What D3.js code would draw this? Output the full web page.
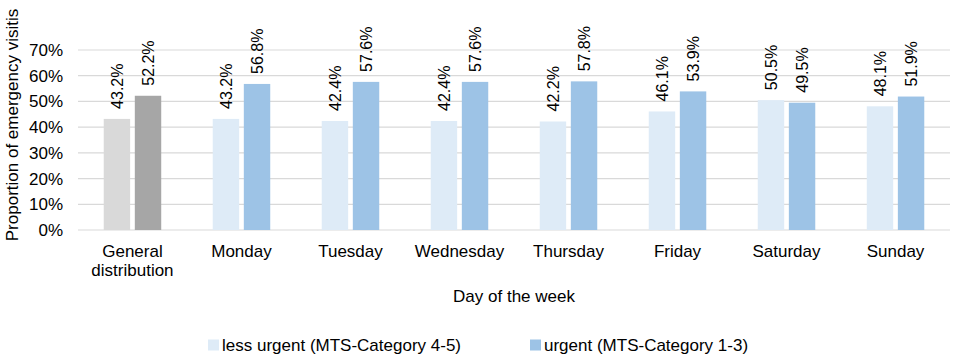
<!DOCTYPE html>
<html>
<head>
<meta charset="utf-8">
<script src="https://cdn.jsdelivr.net/npm/d3@7/dist/d3.min.js"></script>
<style>
  body { margin: 0; background: #fff; }
  svg { font-family: "Liberation Sans", Arial, sans-serif; }
</style>
</head>
<body>
<div id="chart"></div>
<script>
const categories = ["General distribution", "Monday", "Tuesday", "Wednesday", "Thursday", "Friday", "Saturday", "Sunday"];
const seriesNames = ["less urgent (MTS-Category 4-5)", "urgent (MTS-Category 1-3)"];
const lessUrgent = [43.2, 43.2, 42.4, 42.4, 42.2, 46.1, 50.5, 48.1];
const urgent = [52.2, 56.8, 57.6, 57.6, 57.8, 53.9, 49.5, 51.9];
const yTicks = [0, 10, 20, 30, 40, 50, 60, 70];

const WIDTH = 957;
const HEIGHT = 356;
const PLOT = { left: 78, right: 950, top: 50, bottom: 230 };

const blueColors = ["#deebf7", "#9dc3e6"];
const greyColors = ["#d9d9d9", "#a6a6a6"];

const rows = categories.map((c, i) => ({ name: c, values: [lessUrgent[i], urgent[i]] }));

const svg = d3.select("#chart")
    .append("svg")
    .attr("width", WIDTH)
    .attr("height", HEIGHT);

const x0 = d3.scaleBand()
    .domain(categories)
    .range([PLOT.left, PLOT.right])
    .paddingInner(0.4725)
    .paddingOuter(0.236);

const x1 = d3.scaleBand()
    .domain([0, 1])
    .range([0, x0.bandwidth()])
    .paddingInner(0.15);

const y = d3.scaleLinear()
    .domain([0, 70])
    .range([PLOT.bottom, PLOT.top]);

// gridlines
svg.append("g")
    .selectAll("line")
    .data(yTicks)
    .enter()
    .append("line")
    .attr("x1", PLOT.left)
    .attr("x2", PLOT.right)
    .attr("y1", d => y(d))
    .attr("y2", d => y(d))
    .attr("stroke", "#d9d9d9")
    .attr("stroke-width", 1.2);

// y tick labels
svg.append("g")
    .selectAll("text")
    .data(yTicks)
    .enter()
    .append("text")
    .attr("x", 63)
    .attr("y", d => y(d))
    .attr("dy", "0.35em")
    .attr("text-anchor", "end")
    .style("font-size", "17px")
    .text(d => `${d}%`);

// bars
const groups = svg.append("g")
    .selectAll("g")
    .data(rows)
    .enter()
    .append("g")
    .attr("transform", d => `translate(${x0(d.name)},0)`);

groups.selectAll("rect")
    .data((d, i) => d.values.map((v, j) => ({ v, j, general: i === 0 })))
    .enter()
    .append("rect")
    .attr("x", d => x1(d.j))
    .attr("y", d => y(d.v))
    .attr("width", x1.bandwidth())
    .attr("height", d => y(0) - y(d.v))
    .attr("fill", d => d.general ? greyColors[d.j] : blueColors[d.j]);

// value labels
groups.selectAll("text")
    .data(d => d.values.map((v, j) => ({ v, j })))
    .enter()
    .append("text")
    .attr("transform", d => `translate(${x1(d.j) + x1.bandwidth() / 2},${y(d.v) - 10}) rotate(-90)`)
    .attr("dy", "0.35em")
    .style("font-size", "16px")
    .text(d => `${d.v.toFixed(1)}%`);

// category labels
const catLabels = svg.append("g")
    .selectAll("text")
    .data(categories)
    .enter()
    .append("text")
    .attr("x", d => x0(d) + x0.bandwidth() / 2)
    .attr("y", 257)
    .attr("text-anchor", "middle")
    .style("font-size", "17px");

catLabels.each(function (d) {
    const words = d === "General distribution" ? ["General", "distribution"] : [d];
    d3.select(this).selectAll("tspan")
        .data(words)
        .enter()
        .append("tspan")
        .attr("x", x0(d) + x0.bandwidth() / 2)
        .attr("dy", (w, i) => i === 0 ? 0 : 19)
        .text(w => w);
});

// axis titles
svg.append("text")
    .attr("x", (PLOT.left + PLOT.right) / 2)
    .attr("y", 302)
    .attr("text-anchor", "middle")
    .style("font-size", "17px")
    .text("Day of the week");

svg.append("text")
    .attr("transform", "translate(12,125) rotate(-90)")
    .attr("dy", "0.35em")
    .attr("text-anchor", "middle")
    .style("font-size", "17px")
    .text("Proportion of emergency visitis");

// legend
const legendX = [208, 530];
const legend = svg.append("g")
    .selectAll("g")
    .data(seriesNames)
    .enter()
    .append("g")
    .attr("transform", (d, i) => `translate(${legendX[i]},345)`);

legend.append("rect")
    .attr("x", 0)
    .attr("y", -5.5)
    .attr("width", 11)
    .attr("height", 11)
    .attr("fill", (d, i) => blueColors[i]);

legend.append("text")
    .attr("x", 14)
    .attr("y", 0)
    .attr("dy", "0.35em")
    .style("font-size", "17px")
    .text(d => d);
</script>
</body>
</html>
